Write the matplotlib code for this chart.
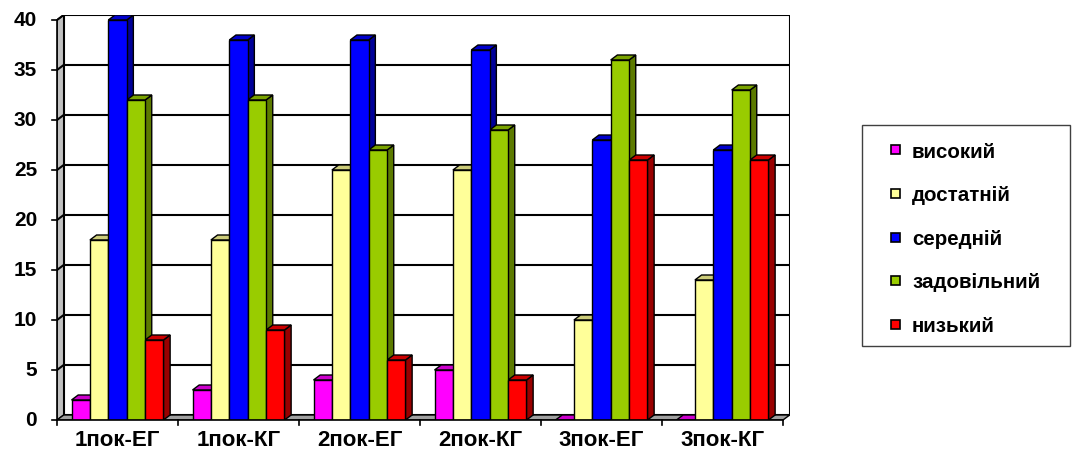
import matplotlib
matplotlib.use('Agg')
from matplotlib import pyplot as plt
from matplotlib.patches import Polygon, Rectangle
import numpy as np

plt.rcParams['font.family'] = ['Liberation Sans', 'DejaVu Sans']
plt.rcParams['font.weight'] = 'bold'

groups = ['1пок-ЕГ', '1пок-КГ', '2пок-ЕГ', '2пок-КГ', '3пок-ЕГ', '3пок-КГ']
levels = ['високий', 'достатній', 'середній', 'задовільний', 'низький']

vysokyi = [2, 3, 4, 5, 0, 0]
dostatnii = [18, 18, 25, 25, 10, 14]
serednii = [40, 38, 38, 37, 28, 27]
zadovilnyi = [32, 32, 27, 29, 36, 33]
nyzkyi = [8, 9, 6, 4, 26, 26]
series = [vysokyi, dostatnii, serednii, zadovilnyi, nyzkyi]

yticks = [0, 5, 10, 15, 20, 25, 30, 35, 40]

front = ['#FF00FF', '#FFFF99', '#0000FF', '#99CC00', '#FF0000']
top = ['#CC00CC', '#CCCC7A', '#0000CC', '#7AA300', '#CC0000']
side = ['#990099', '#999966', '#000099', '#5C7A00', '#990000']

# depth of the 3d box in data units
dx = 0.055
dy = 0.5
ymax = 40
ncat = len(groups)

W, H = 1073, 459
fig = plt.figure(figsize=(W / 100, H / 100), dpi=100)
px_cat = 121.0
px_val = 10.0
ax = fig.add_axes([57 / W, 39 / H, (ncat + dx) * px_cat / W, (ymax + dy) * px_val / H])
ax.set_xlim(0, ncat + dx)
ax.set_ylim(0, ymax + dy)
ax.axis('off')

# walls and floor
ax.add_patch(Polygon([(0, 0), (dx, dy), (dx, ymax + dy), (0, ymax)], closed=True,
                     facecolor='#C0C0C0', edgecolor='black', lw=1, zorder=1))
ax.add_patch(Polygon([(0, 0), (ncat, 0), (ncat + dx, dy), (dx, dy)], closed=True,
                     facecolor='#A0A0A0', edgecolor='black', lw=1, zorder=1))
ax.add_patch(Rectangle((dx, dy), ncat, ymax, facecolor='white', edgecolor='black', lw=1.5, zorder=0.5))
for v in yticks[1:-1]:
    ax.plot([0, dx, ncat + dx], [v, v + dy, v + dy], color='black', lw=1.5, zorder=1.5)
ax.plot([0, dx], [ymax, ymax + dy], color='black', lw=1.5, zorder=1.5)

# axes lines and ticks
ax.plot([0, 0], [0, ymax], color='black', lw=1.2, zorder=5, clip_on=False)
ax.plot([0, ncat], [0, 0], color='black', lw=1.2, zorder=5, clip_on=False)
tx = 5.0 / px_cat
for v in yticks:
    ax.plot([-tx, 0], [v, v], color='black', lw=1.2, clip_on=False)
    ax.text(-0.165, v, str(v), ha='right', va='center', fontsize=15, fontweight='bold')
for i in range(ncat + 1):
    ax.plot([i, i], [0, -0.5], color='black', lw=1.2, clip_on=False)
for i, g in enumerate(groups):
    ax.text(i + 0.5, -2.1, g, ha='center', va='center', fontsize=16, fontweight='bold')

# 3d columns
bw = 0.152
gap = (1 - bw * len(series)) / 2
for j, vals in enumerate(series):
    x0 = np.arange(ncat) + gap + j * bw
    ax.bar(x0, vals, width=bw, align='edge', color=front[j], edgecolor='black', lw=1, zorder=3 + j * 0.01)
    for x, v in zip(x0, vals):
        ax.add_patch(Polygon([(x + bw, 0), (x + bw + dx, dy), (x + bw + dx, v + dy), (x + bw, v)],
                             closed=True, facecolor=side[j], edgecolor='black', lw=1, zorder=2.9 + j * 0.01))
        ax.add_patch(Polygon([(x, v), (x + bw, v), (x + bw + dx, v + dy), (x + dx, v + dy)],
                             closed=True, facecolor=top[j], edgecolor='black', lw=1, zorder=2.9 + j * 0.01))

# legend box, drawn in figure pixels
fig.patches.append(Rectangle((862 / W, 1 - 346 / H), 208 / W, 221 / H, transform=fig.transFigure,
                             facecolor='white', edgecolor='#404040', lw=1))
for k, (lab, c) in enumerate(zip(levels, front)):
    yc = 1 - (150 + k * 43.5) / H
    fig.patches.append(Rectangle((891 / W, yc - 4.5 / H), 9 / W, 9 / H, transform=fig.transFigure,
                                 facecolor=c, edgecolor='black', lw=1.2))
    fig.text(912 / W, yc, lab, ha='left', va='center_baseline', fontsize=14.8, fontweight='bold')

fig.savefig('out.png', dpi=100)
